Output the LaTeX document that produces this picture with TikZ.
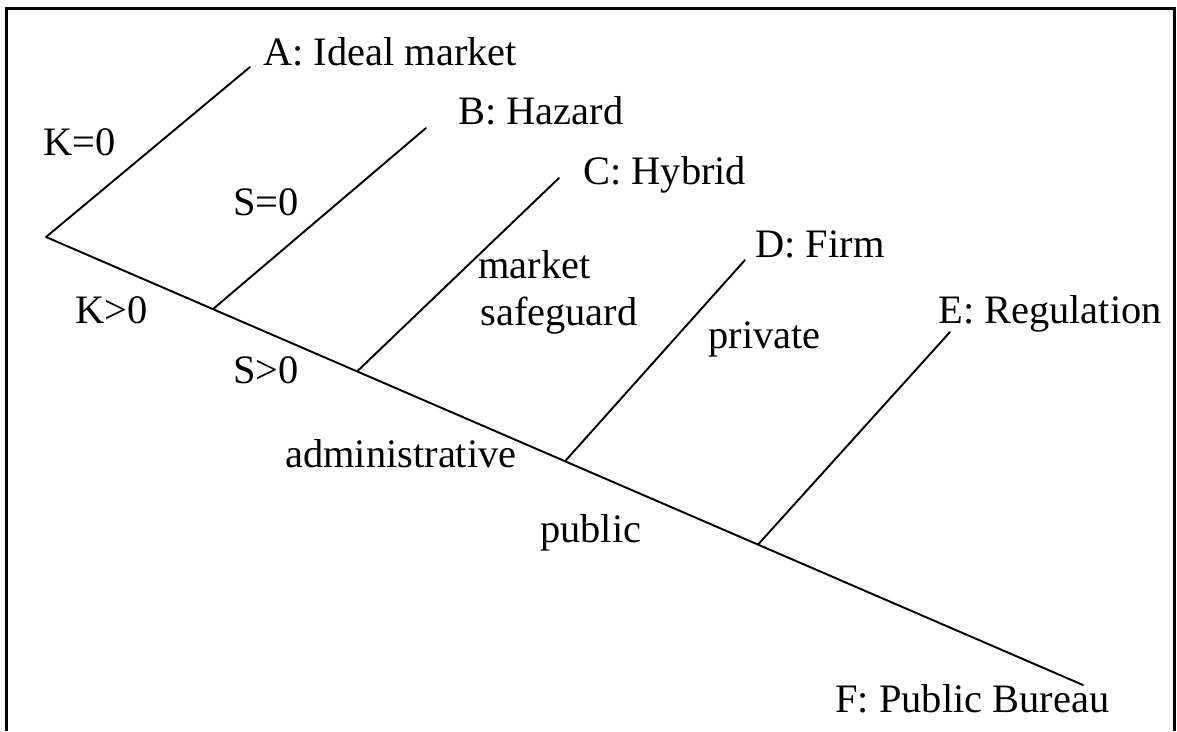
\documentclass[tikz,border=0pt]{standalone}
\usepackage{fontspec}
\setmainfont{Liberation Serif}
\usetikzlibrary{calc}

\begin{document}
\begin{tikzpicture}[x=0.02cm, y=-0.02cm,
  branch/.style={line width=1.1pt, line cap=round},
  lbl/.style={font=\fontsize{23}{27}\selectfont, inner sep=0pt, anchor=base west}]
  \useasboundingbox (0,0) rectangle (1177,731);
  % Frame
  \draw[line width=1.5pt] (6.7,731) -- (6.7,8.7) -- (1174.7,8.7) -- (1174.7,731);
  % Trunk and junctions
  \coordinate (root) at (46,237);
  \coordinate (endF) at (1083,685);
  \coordinate (jB) at ($(root)!0.161!(endF)$);
  \coordinate (jC) at ($(root)!0.300!(endF)$);
  \coordinate (jD) at ($(root)!0.5005!(endF)$);
  \coordinate (jE) at ($(root)!0.6866!(endF)$);
  % Branch ends
  \coordinate (endA) at (250,67);
  \coordinate (endB) at (426,128);
  \coordinate (endC) at (559,178);
  \coordinate (endD) at (745,260);
  \coordinate (endE) at (950,332);
  % Branches
  \draw[branch] (root) -- (endF);
  \draw[branch] (root) -- (endA);
  \draw[branch] (jB) -- (endB);
  \draw[branch] (jC) -- (endC);
  \draw[branch] (jD) -- (endD);
  \draw[branch] (jE) -- (endE);
  % Outcomes
  \node[lbl] (A) at (263,65) {A: Ideal market};
  \node[lbl] (B) at (458,124) {B: Hazard};
  \node[lbl] (C) at (583,184) {C: Hybrid};
  \node[lbl] (D) at (755,257) {D: Firm};
  \node[lbl] (E) at (938,323) {E: Regulation};
  \node[lbl] (F) at (835,712) {F: Public Bureau};
  % Conditions
  \node[lbl] (kzero) at (43,155) {K=0};
  \node[lbl] (kpos) at (75,323) {K>0};
  \node[lbl] (szero) at (233,215) {S=0};
  \node[lbl] (spos) at (233,383) {S>0};
  \node[lbl] (mkt) at (478,278) {market};
  \node[lbl] (safe) at (480,325) {safeguard};
  \node[lbl] (admin) at (285,467) {administrative};
  \node[lbl] (priv) at (708,348) {private};
  \node[lbl] (pub) at (540,542) {public};
\end{tikzpicture}
\end{document}
